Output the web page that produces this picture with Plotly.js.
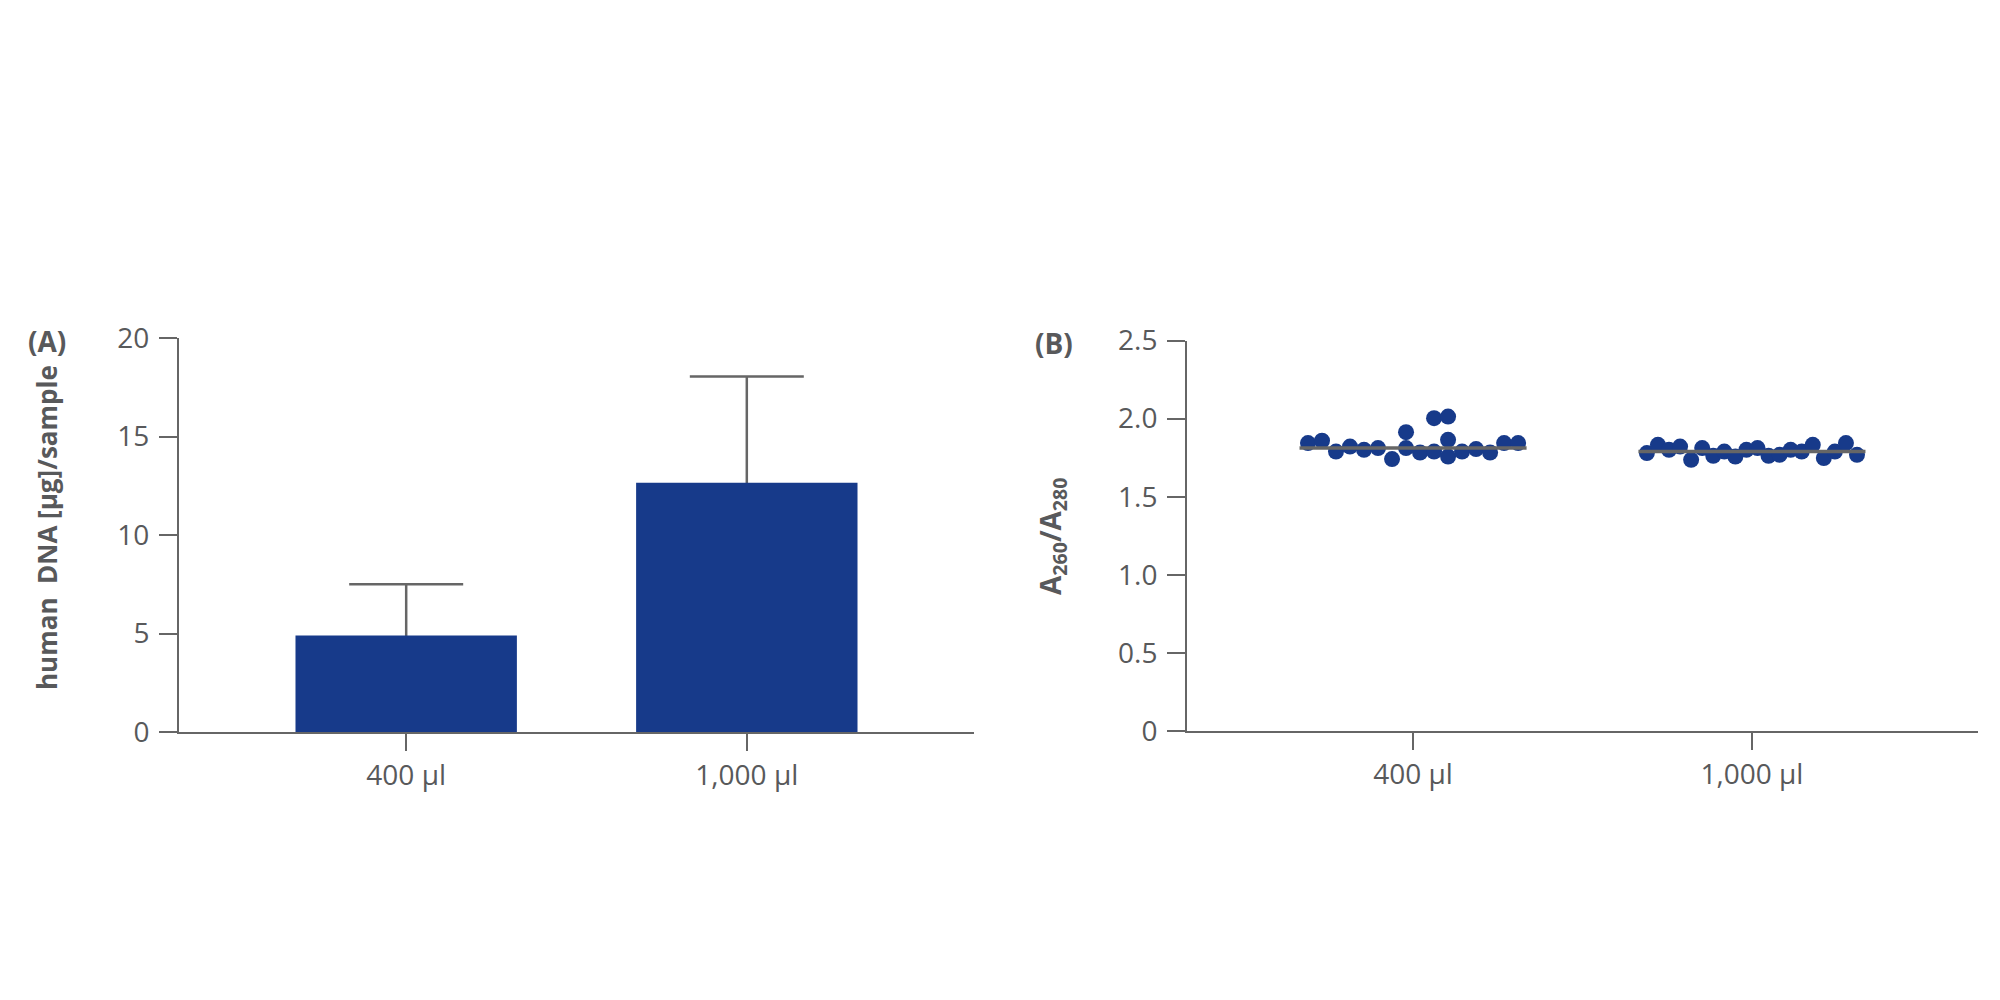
<!DOCTYPE html>
<html>
<head>
<meta charset="utf-8">
<script src="https://cdn.plot.ly/plotly-3.0.1.min.js"></script>
<style>
    html, body { margin: 0; padding: 0; background: #ffffff; }
    #chart { width: 2000px; height: 1000px; }
</style>
</head>
<body>
<div id="chart"></div>
<script>
// Data
const categories = ['400 µl', '1,000 µl'];

// (A) human DNA yield per sample, mean + SD
const dnaMean = [4.9, 12.65];
const dnaSD = [2.6, 5.4];

// (B) A260/A280 ratios; inner arrays are replicates that share a column in the dot plot
const ratio400 = [
    [1.843], [1.858], [1.789], [1.821], [1.800], [1.811], [1.741], [1.913, 1.811],
    [1.783], [2.003, 1.789], [2.013, 1.864, 1.757], [1.789], [1.805], [1.783], [1.843], [1.843]
];
const ratio1000 = [
    [1.779], [1.832], [1.800], [1.821], [1.736], [1.811], [1.762], [1.789], [1.757], [1.800],
    [1.811], [1.762], [1.768], [1.800], [1.789], [1.832], [1.747], [1.789], [1.843], [1.768]
];

const yTicksA = [0, 5, 10, 15, 20];
const yTicksB = [0, 0.5, 1.0, 1.5, 2.0, 2.5];
const yTickTextB = ['0', '0.5', '1.0', '1.5', '2.0', '2.5'];

// Styling
const BLUE = '#173a8a';
const GREY = '#58595b';
const LINE = '#666666';
const FONT = '"Open Sans", "Noto Sans", sans-serif';

// Median of a flat list
function median(values) {
    const s = values.slice().sort((a, b) => a - b);
    const m = Math.floor(s.length / 2);
    return s.length % 2 ? s[m] : (s[m - 1] + s[m]) / 2;
}

// Spread the columns of a group evenly across the category slot
function dotTrace(columns, catIndex) {
    const halfWidth = 0.31;
    const xs = [];
    const ys = [];
    columns.forEach((col, i) => {
        const off = columns.length > 1 ? -halfWidth + (2 * halfWidth * i) / (columns.length - 1) : 0;
        col.forEach(v => {
            xs.push(catIndex + off);
            ys.push(v);
        });
    });
    return {
        type: 'scatter',
        mode: 'markers',
        x: xs,
        y: ys,
        xaxis: 'x2',
        yaxis: 'y2',
        marker: { size: 16, color: BLUE },
        hoverinfo: 'y',
        showlegend: false
    };
}

function medianTrace(columns, catIndex) {
    const med = median(columns.flat());
    return {
        type: 'scatter',
        mode: 'lines',
        x: [catIndex - 0.335, catIndex + 0.335],
        y: [med, med],
        xaxis: 'x2',
        yaxis: 'y2',
        line: { color: LINE, width: 3.5 },
        hoverinfo: 'skip',
        showlegend: false
    };
}

const catIdx = categories.map((c, i) => i);

const traces = [
    // transparent copy carrying the error bars, so the visible bars hide their lower half
    {
        type: 'bar',
        x: catIdx,
        y: dnaMean,
        width: 0.65,
        marker: { color: 'rgba(0,0,0,0)' },
        error_y: { type: 'data', array: dnaSD, color: LINE, thickness: 2.5, width: 57 },
        hoverinfo: 'skip',
        showlegend: false
    },
    {
        type: 'bar',
        x: catIdx,
        y: dnaMean,
        width: 0.65,
        marker: { color: BLUE, line: { width: 0 } },
        showlegend: false
    },
    dotTrace(ratio400, 0),
    dotTrace(ratio1000, 1),
    medianTrace(ratio400, 0),
    medianTrace(ratio1000, 1)
];

const tickFont = { family: FONT, size: 28, color: GREY };

const baseX = {
    range: [-0.667, 1.667],
    tickvals: catIdx,
    ticktext: categories,
    showline: true,
    linecolor: LINE,
    linewidth: 2,
    ticks: 'outside',
    ticklen: 17,
    tickwidth: 2,
    tickcolor: LINE,
    tickfont: tickFont,
    showgrid: false,
    zeroline: false,
    fixedrange: true
};

const baseY = {
    showline: true,
    linecolor: LINE,
    linewidth: 2,
    ticks: 'outside',
    ticklen: 18,
    tickwidth: 2,
    tickcolor: LINE,
    tickfont: tickFont,
    ticklabelstandoff: 4,
    showgrid: false,
    zeroline: false,
    fixedrange: true
};

const labelFont = { family: FONT, size: 28, color: GREY };
const titleFontA = { family: FONT, size: 26, color: GREY };

const layout = {
    width: 2000,
    height: 1000,
    margin: { l: 0, r: 0, t: 0, b: 0 },
    paper_bgcolor: '#ffffff',
    plot_bgcolor: '#ffffff',
    barmode: 'overlay',
    showlegend: false,
    xaxis: Object.assign({}, baseX, { domain: [0.0895, 0.487], anchor: 'y' }),
    yaxis: Object.assign({}, baseY, {
        domain: [0.268, 0.662], anchor: 'x', range: [0, 20], tickvals: yTicksA
    }),
    xaxis2: Object.assign({}, baseX, { domain: [0.5935, 0.989], anchor: 'y2' }),
    yaxis2: Object.assign({}, baseY, {
        domain: [0.269, 0.6595], anchor: 'x2', range: [0, 2.5],
        tickvals: yTicksB, ticktext: yTickTextB
    }),
    annotations: [
        {
            text: '<b>(A)</b>', xref: 'paper', yref: 'paper', x: 0.0235, y: 0.659,
            xanchor: 'center', yanchor: 'middle', showarrow: false, font: labelFont
        },
        {
            text: '<b>(B)</b>', xref: 'paper', yref: 'paper', x: 0.527, y: 0.657,
            xanchor: 'center', yanchor: 'middle', showarrow: false, font: labelFont
        },
        {
            text: '<b>human\u00a0 DNA [µg]/sample</b>', xref: 'paper', yref: 'paper',
            x: 0.0235, y: 0.472, textangle: -90,
            xanchor: 'center', yanchor: 'middle', showarrow: false, font: titleFontA
        },
        {
            text: '<b>A<sub>260</sub>/A<sub>280</sub></b>', xref: 'paper', yref: 'paper',
            x: 0.526, y: 0.463, textangle: -90,
            xanchor: 'center', yanchor: 'middle', showarrow: false, font: labelFont
        }
    ]
};

Plotly.newPlot('chart', traces, layout, { displayModeBar: false, staticPlot: true });
</script>
</body>
</html>
